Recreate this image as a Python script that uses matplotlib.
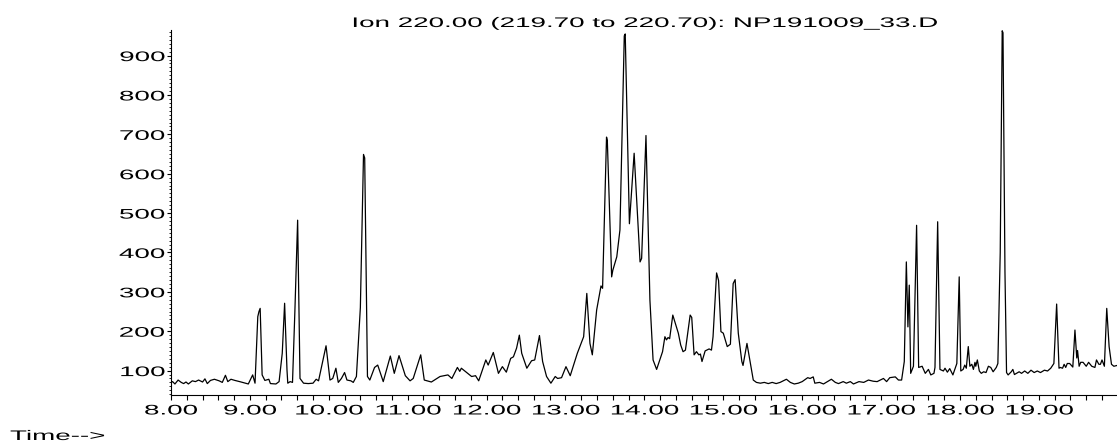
import matplotlib
matplotlib.use('Agg')
import matplotlib.pyplot as plt
from matplotlib.ticker import MultipleLocator, FixedLocator
from matplotlib.patheffects import AbstractPathEffect
from matplotlib.transforms import Affine2D

# retention time (min) and abundance
rt_min = [
    8.00, 8.02, 8.05, 8.09, 8.13, 8.16, 8.19, 8.22, 8.27, 8.31, 8.35, 8.40, 8.43, 8.46, 8.50, 8.55,
    8.61, 8.65, 8.69, 8.72, 8.76, 8.81, 8.87, 8.94, 8.98, 9.035, 9.065, 9.10, 9.115, 9.13, 9.155,
    9.19, 9.24, 9.26, 9.33, 9.37, 9.41, 9.44, 9.47, 9.48, 9.51, 9.54, 9.57, 9.605, 9.635, 9.68,
    9.74, 9.80, 9.84, 9.87, 9.90, 9.965, 10.015, 10.05, 10.09, 10.12, 10.16, 10.20, 10.23, 10.28,
    10.31, 10.35, 10.40, 10.44, 10.455, 10.49, 10.52, 10.58, 10.62, 10.69, 10.78, 10.83, 10.89,
    10.97, 11.03, 11.07, 11.165, 11.21, 11.30, 11.41, 11.51, 11.56, 11.63, 11.66, 11.68, 11.76,
    11.81, 11.86, 11.90, 11.99, 12.02, 12.085, 12.15, 12.20, 12.25, 12.305, 12.34, 12.38, 12.415,
    12.445, 12.51, 12.57, 12.61, 12.67, 12.71, 12.76, 12.815, 12.87, 12.90, 12.95, 13.006, 13.06,
    13.15, 13.19, 13.23, 13.27, 13.31, 13.34, 13.395, 13.45, 13.47, 13.52, 13.53, 13.585, 13.60,
    13.65, 13.69, 13.745, 13.757, 13.81, 13.87, 13.945, 13.965, 14.02, 14.07, 14.11, 14.155, 14.23,
    14.26, 14.28, 14.30, 14.32, 14.36, 14.43, 14.46, 14.49, 14.52, 14.58, 14.60, 14.63, 14.66,
    14.69, 14.71, 14.73, 14.77, 14.82, 14.85, 14.87, 14.915, 14.94, 14.97, 15.00, 15.05, 15.09,
    15.125, 15.15, 15.19, 15.235, 15.25, 15.30, 15.35, 15.38, 15.42, 15.47, 15.52, 15.57, 15.62,
    15.67, 15.72, 15.80, 15.85, 15.90, 15.95, 16.00, 16.07, 16.10, 16.14, 16.16, 16.22, 16.27,
    16.37, 16.42, 16.46, 16.52, 16.56, 16.61, 16.65, 16.72, 16.78, 16.84, 16.90, 16.95, 17.03,
    17.07, 17.11, 17.18, 17.22, 17.26, 17.294, 17.32, 17.34, 17.357, 17.375, 17.41, 17.45, 17.476,
    17.52, 17.56, 17.60, 17.63, 17.67, 17.683, 17.717, 17.746, 17.79, 17.81, 17.84, 17.87, 17.91,
    17.96, 17.99, 18.01, 18.04, 18.06, 18.08, 18.105, 18.125, 18.15, 18.17, 18.19, 18.20, 18.22,
    18.245, 18.27, 18.30, 18.33, 18.36, 18.39, 18.42, 18.46, 18.48, 18.51, 18.535, 18.545, 18.57,
    18.59, 18.61, 18.65, 18.67, 18.69, 18.75, 18.78, 18.82, 18.86, 18.90, 18.94, 18.98, 19.02,
    19.07, 19.11, 19.15, 19.19, 19.225, 19.255, 19.27, 19.30, 19.32, 19.34, 19.36, 19.39, 19.42,
    19.43, 19.457, 19.48, 19.49, 19.51, 19.53, 19.56, 19.60, 19.63, 19.67, 19.71, 19.73, 19.76,
    19.78, 19.80, 19.83, 19.86, 19.89, 19.92, 19.95, 19.99,
]
abundance = [
    70, 72, 66, 76, 70, 67, 71, 66, 74, 72, 76, 71, 79, 67, 75, 78,
    74, 70, 88, 72, 78, 75, 72, 68, 66, 89, 68, 237, 250, 258, 89,
    75, 78, 67, 66, 72, 144, 271, 102, 68, 72, 70, 250, 482, 80, 68,
    67, 68, 78, 74, 102, 163, 76, 80, 106, 70, 80, 95, 76, 74,
    70, 85, 260, 649, 640, 85, 76, 108, 114, 72, 137, 93, 138,
    87, 74, 80, 140, 76, 71, 85, 89, 80, 108, 98, 106, 93,
    85, 87, 74, 127, 114, 146, 93, 110, 96, 131, 135, 157, 190,
    144, 106, 125, 127, 189, 123, 85, 68, 85, 80, 82, 110, 87,
    144, 165, 186, 296, 169, 140, 254, 315, 309, 693, 685, 338, 355,
    389, 457, 950, 955, 473, 652, 376, 385, 697, 279, 127, 103, 148,
    186, 178, 184, 181, 241, 195, 165, 148, 152, 241, 235, 140, 148,
    140, 142, 123, 150, 155, 152, 186, 348, 329, 199, 195, 161, 167,
    321, 331, 195, 123, 113, 169, 111, 76, 70, 68, 70, 67, 70,
    67, 70, 78, 70, 66, 68, 72, 82, 80, 84, 68, 70, 66,
    78, 70, 67, 72, 68, 72, 66, 72, 70, 76, 73, 72, 80,
    72, 82, 84, 76, 76, 123, 376, 211, 317, 93, 111, 469, 108,
    111, 93, 103, 89, 93, 108, 478, 103, 99, 106, 96, 105, 89,
    118, 338, 99, 103, 114, 106, 161, 111, 116, 103, 121, 111, 127,
    99, 93, 97, 95, 111, 108, 97, 108, 118, 400, 963, 958, 350,
    95, 89, 97, 103, 90, 97, 93, 99, 93, 101, 95, 99, 95,
    101, 99, 106, 118, 269, 106, 108, 106, 116, 108, 118, 118, 111,
    109, 203, 132, 151, 111, 121, 121, 111, 121, 111, 108, 127, 116,
    116, 127, 111, 258, 161, 116, 111, 113,
]

x_ticks = [8, 9, 10, 11, 12, 13, 14, 15, 16, 17, 18, 19]
x_labels = ['8.00', '9.00', '10.00', '11.00', '12.00', '13.00',
            '14.00', '15.00', '16.00', '17.00', '18.00', '19.00']
y_ticks = [100, 200, 300, 400, 500, 600, 700, 800, 900]
title_text = 'Ion 220.00 (219.70 to 220.70): NP191009_33.D'
time_text = 'Time-->'


class Widen(AbstractPathEffect):
    # the printout is squashed vertically, so all lettering looks twice as wide
    def __init__(self, x0, sx=2.0):
        super().__init__()
        self.x0 = x0
        self.sx = sx

    def draw_path(self, renderer, gc, tpath, affine, rgbFace=None):
        stretch = Affine2D().translate(-self.x0, 0).scale(self.sx, 1).translate(self.x0, 0)
        renderer.draw_path(gc, tpath, affine + stretch, rgbFace)


plt.rcParams['font.family'] = ['Liberation Sans', 'DejaVu Sans']

W, H = 1117, 448
fig = plt.figure(figsize=(W / 100, H / 100), dpi=100)
ax = fig.add_axes([171 / W, 1 - 395 / H, 1 - 171 / W, (395 - 30) / H])

ax.plot(rt_min, abundance, color='black', lw=0.9)
ax.set_xlim(8, 19.99)
ax.set_ylim(38, 965)

ax.spines['top'].set_visible(False)
ax.spines['right'].set_visible(False)
ax.spines['left'].set_linewidth(0.8)
ax.spines['bottom'].set_linewidth(0.8)

ax.xaxis.set_major_locator(FixedLocator(x_ticks))
ax.set_xticklabels(x_labels)
ax.xaxis.set_minor_locator(MultipleLocator(0.2))
ax.yaxis.set_major_locator(FixedLocator(y_ticks))
ax.yaxis.set_minor_locator(MultipleLocator(10))
ax.tick_params(axis='x', which='both', direction='out', length=3.6, width=0.8)
ax.tick_params(axis='x', which='major', labelsize=10, pad=2.5)
ax.tick_params(axis='y', which='major', direction='out', length=3, width=0.8, labelsize=10, pad=1)
ax.tick_params(axis='y', which='minor', direction='out', length=1.2, width=0.6)

title = fig.text(645 / W, 1 - 27 / H, title_text, ha='center', va='baseline', fontsize=10)
time_lbl = fig.text(10 / W, 1 - 440 / H, time_text, ha='left', va='baseline', fontsize=10)

# widen the lettering about its own anchor point
fig.canvas.draw()
for lbl in ax.get_xticklabels():
    bb = lbl.get_window_extent()
    lbl.set_path_effects([Widen((bb.x0 + bb.x1) / 2)])
for lbl in ax.get_yticklabels():
    bb = lbl.get_window_extent()
    lbl.set_path_effects([Widen(bb.x1)])
bb = title.get_window_extent()
title.set_path_effects([Widen((bb.x0 + bb.x1) / 2)])
bb = time_lbl.get_window_extent()
time_lbl.set_path_effects([Widen(bb.x0)])

fig.savefig('out.png', dpi=100)
